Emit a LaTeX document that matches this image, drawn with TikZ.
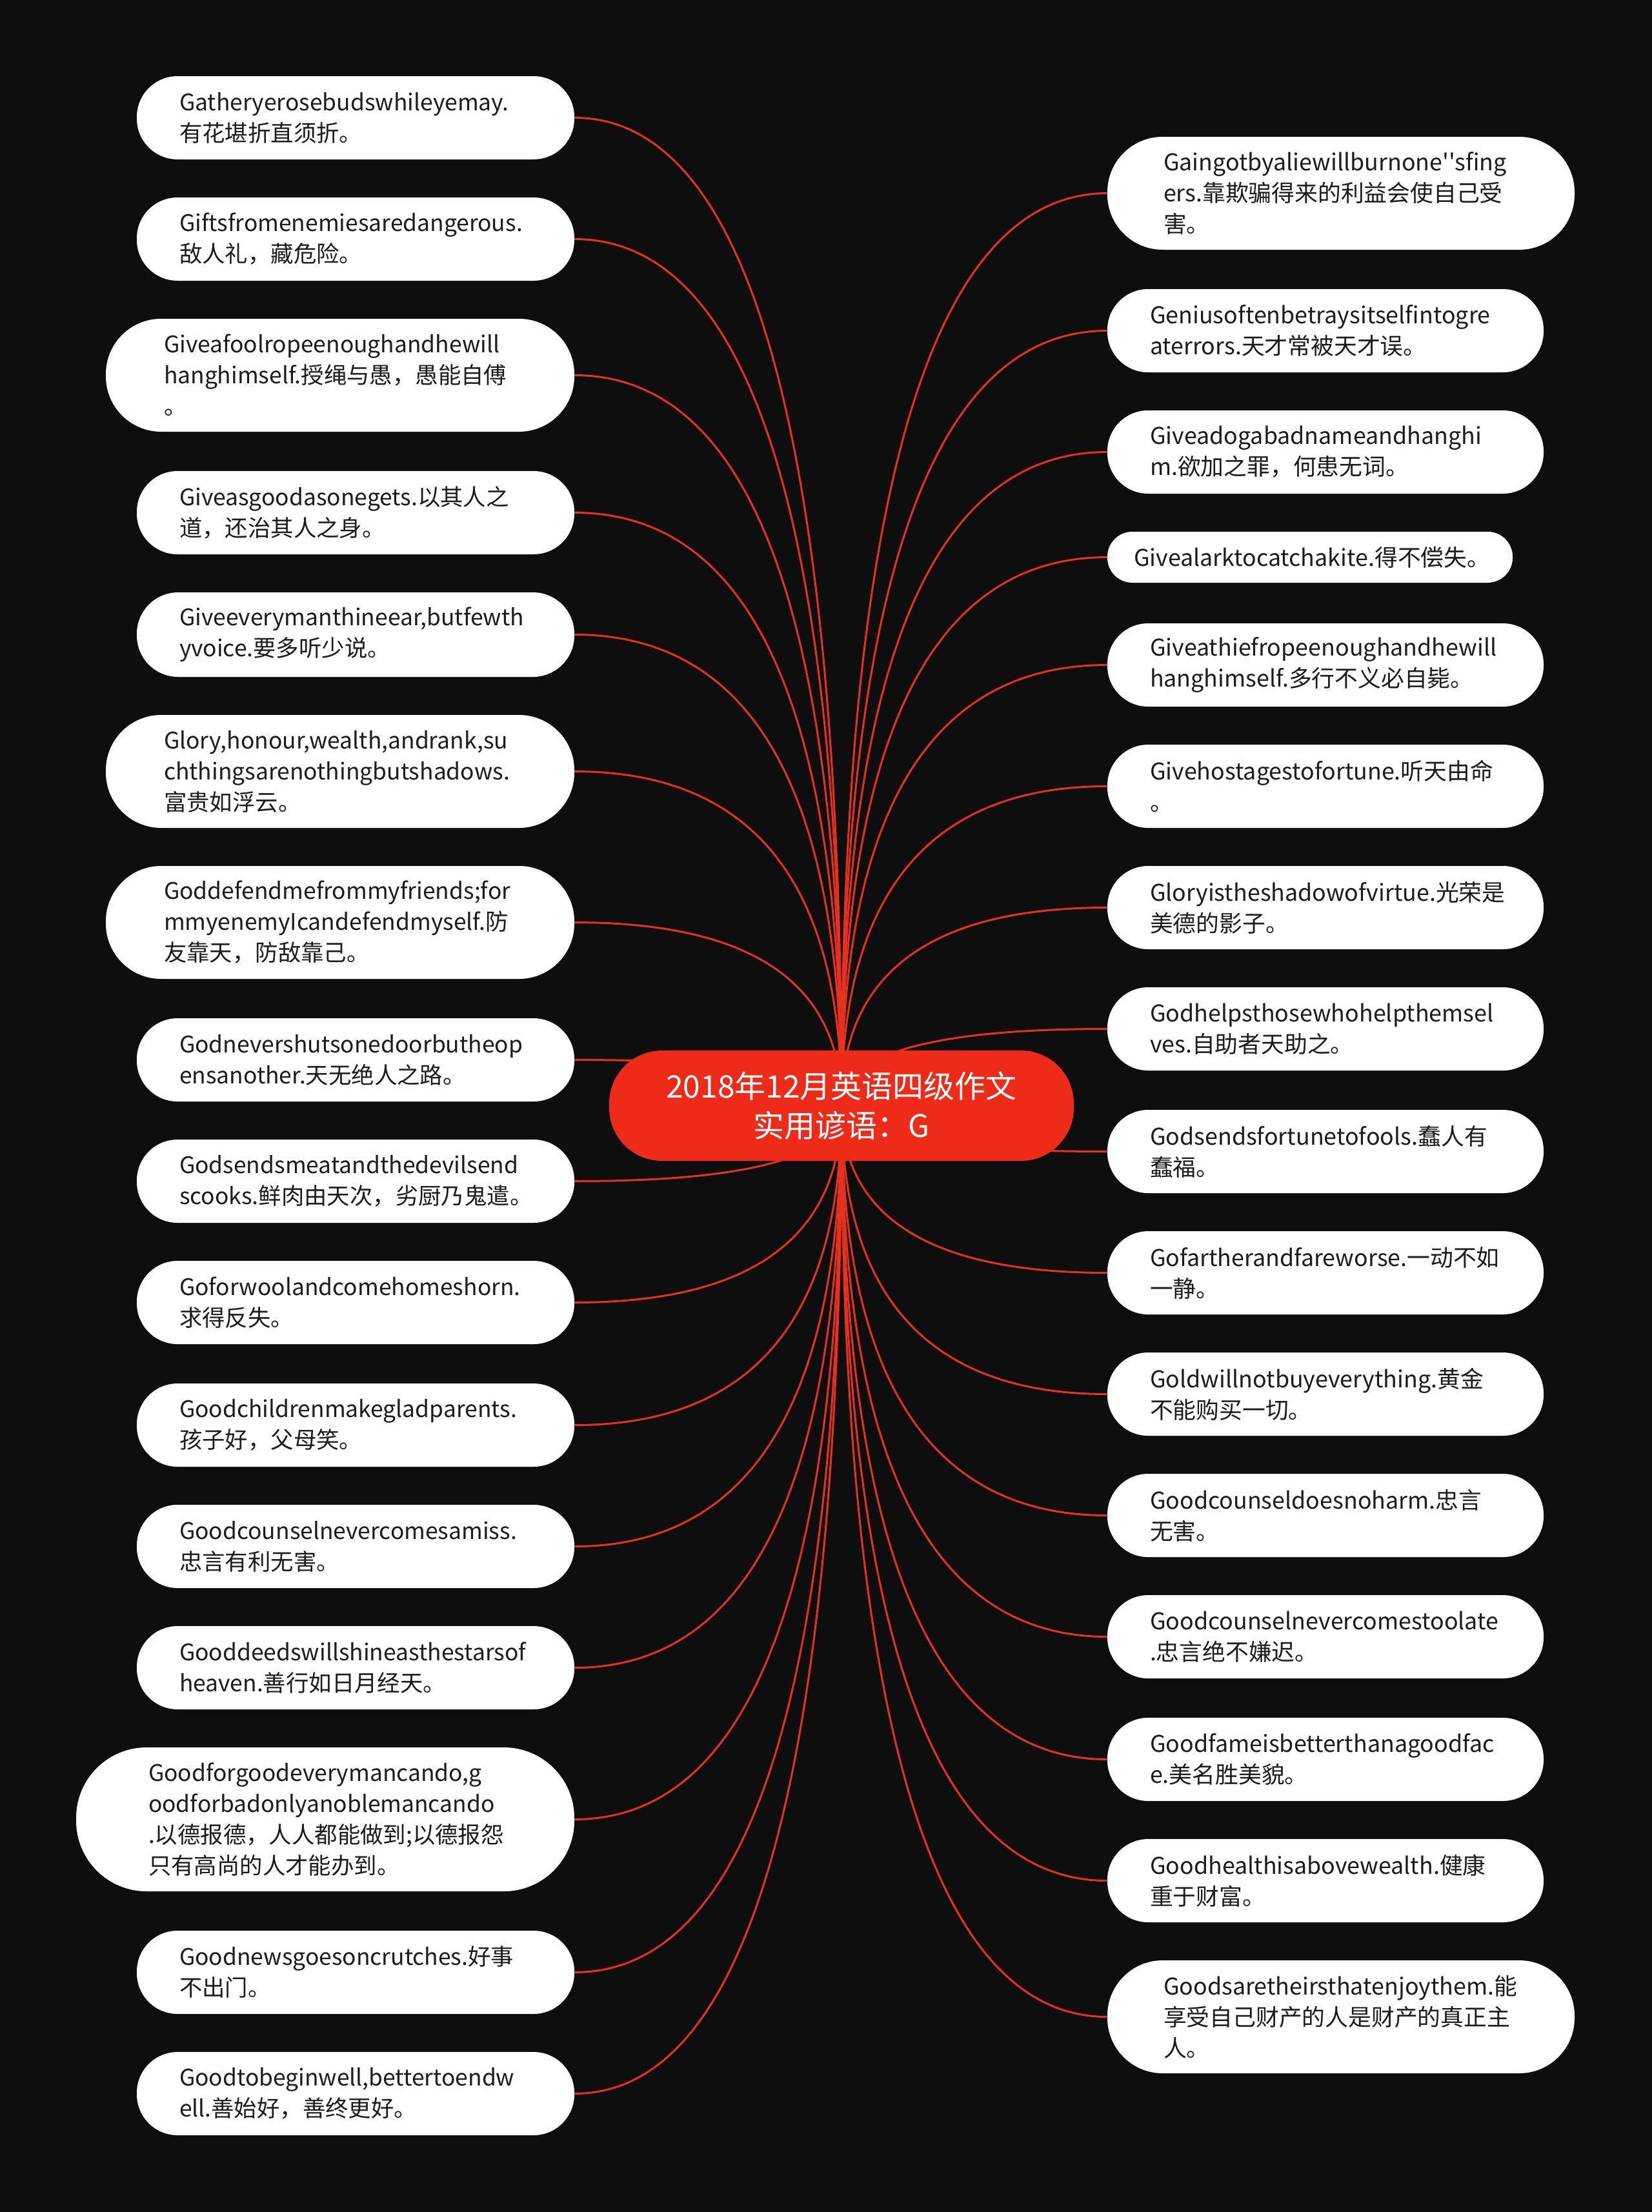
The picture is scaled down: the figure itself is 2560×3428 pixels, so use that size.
\documentclass[tikz,border=0pt]{standalone}
\usepackage{fontspec}
\newfontfamily\cjk{Noto Sans CJK SC}
\usetikzlibrary{calc}
\definecolor{bgc}{HTML}{0E0E0E}
\definecolor{redc}{HTML}{EE2A18}
\definecolor{linec}{HTML}{E8301E}
\definecolor{txt}{HTML}{1C1C1C}
\pgfdeclarelayer{back}\pgfdeclarelayer{links}\pgfsetlayers{back,links,main}
\tikzset{
 leafbox/.style={fill=white, draw=none, inner sep=0pt, align=left, text=txt, font=\cjk\fontsize{17.7}{24}\selectfont},
 rightfont/.style={font=\cjk\fontsize{17.9}{24}\selectfont},
 rootbox/.style={fill=redc, draw=none, inner sep=0pt, align=center, text=white, font=\cjk\fontsize{24}{30.5}\selectfont, minimum width=360pt, minimum height=85.5pt, rounded corners=41pt},
 conn/.style={draw=linec, line width=1.5pt}
}
\newcommand\leaf[8][]{%
 \pgfmathsetmacro\lw{(#3-#2)*0.5}%
 \pgfmathsetmacro\lh{(#5-#4)*0.5}%
 \pgfmathsetmacro\ltw{(#3-#2-2*#6)*0.5}%
 \pgfmathsetmacro\lr{\lh*0.49}%
 \pgfmathsetmacro\lx{(#2+#3)/2}%
 \pgfmathsetmacro\ly{(#4+#5)/2}%
 \node[leafbox, #1, minimum width=\lw pt, minimum height=\lh pt, text width=\ltw pt, rounded corners=\lr pt] (#7) at (\lx,\ly) {#8};}
\newcommand\link[2]{\draw[conn] (c.center) .. controls ($(c.center)!0.6667!(c.center |- #1.#2)$) and ($(#1.#2)!0.6667!(c.center |- #1.#2)$) .. (#1.#2);}
\begin{document}
\begin{tikzpicture}[x=0.5pt,y=-0.5pt]
\begin{pgfonlayer}{back}
\fill[bgc] (0,0) rectangle (2560,3428);
\end{pgfonlayer}
\useasboundingbox (0,0) rectangle (2560,3428);

\node[rootbox] (c) at (1304,1713.5) {2018年12月英语四级作文\\实用谚语：G};

% left column
\leaf{212}{890}{118}{247}{66}{l1}{Gatheryerosebudswhileyemay.\\有花堪折直须折。}
\leaf{212}{890}{306}{435}{66}{l2}{Giftsfromenemiesaredangerous.\\敌人礼，藏危险。}
\leaf{164}{890}{494}{669}{90}{l3}{Giveafoolropeenoughandhewill\\hanghimself.授绳与愚，愚能自傅\\。}
\leaf{212}{890}{730}{859}{66}{l4}{Giveasgoodasonegets.以其人之\\道，还治其人之身。}
\leaf{212}{890}{918}{1049}{66}{l5}{Giveeverymanthineear,butfewth\\yvoice.要多听少说。}
\leaf{164}{890}{1108}{1283}{90}{l6}{Glory,honour,wealth,andrank,su\\chthingsarenothingbutshadows.\\富贵如浮云。}
\leaf{164}{890}{1342}{1517}{90}{l7}{Goddefendmefrommyfriends;for\\mmyenemyIcandefendmyself.防\\友靠天，防敌靠己。}
\leaf{212}{890}{1578}{1707}{66}{l8}{Godnevershutsonedoorbutheop\\ensanother.天无绝人之路。}
\leaf{212}{890}{1766}{1895}{66}{l9}{Godsendsmeatandthedevilsend\\scooks.鲜肉由天次，劣厨乃鬼遣。}
\leaf{212}{890}{1954}{2083}{66}{l10}{Goforwoolandcomehomeshorn.\\求得反失。}
\leaf{212}{890}{2144}{2273}{66}{l11}{Goodchildrenmakegladparents.\\孩子好，父母笑。}
\leaf{212}{890}{2332}{2461}{66}{l12}{Goodcounselnevercomesamiss.\\忠言有利无害。}
\leaf{212}{890}{2520}{2649}{66}{l13}{Gooddeedswillshineasthestarsof\\heaven.善行如日月经天。}
\leaf{118}{890}{2708}{2931}{112}{l14}{Goodforgoodeverymancando,g\\oodforbadonlyanoblemancando\\.以德报德，人人都能做到;以德报怨\\只有高尚的人才能办到。}
\leaf{212}{890}{2992}{3121}{66}{l15}{Goodnewsgoesoncrutches.好事\\不出门。}
\leaf{212}{890}{3180}{3309}{66}{l16}{Goodtobeginwell,bettertoendw\\ell.善始好，善终更好。}

% right column
\leaf[rightfont]{1716}{2440}{212}{387}{87}{r1}{Gaingotbyaliewillburnone''sfing\\ers.靠欺骗得来的利益会使自己受\\害。}
\leaf[rightfont]{1716}{2392}{448}{577}{66}{r2}{Geniusoftenbetraysitselfintogre\\aterrors.天才常被天才误。}
\leaf[rightfont]{1716}{2392}{636}{765}{66}{r3}{Giveadogabadnameandhanghi\\m.欲加之罪，何患无词。}
\leaf[rightfont]{1716}{2344}{824}{903}{41}{r4}{Givealarktocatchakite.得不偿失。}
\leaf[rightfont]{1716}{2392}{966}{1095}{66}{r5}{Giveathiefropeenoughandhewill\\hanghimself.多行不义必自毙。}
\leaf[rightfont]{1716}{2392}{1154}{1283}{66}{r6}{Givehostagestofortune.听天由命\\。}
\leaf[rightfont]{1716}{2392}{1342}{1471}{66}{r7}{Gloryistheshadowofvirtue.光荣是\\美德的影子。}
\leaf[rightfont]{1716}{2392}{1530}{1659}{66}{r8}{Godhelpsthosewhohelpthemsel\\ves.自助者天助之。}
\leaf[rightfont]{1716}{2392}{1720}{1849}{66}{r9}{Godsendsfortunetofools.蠢人有\\蠢福。}
\leaf[rightfont]{1716}{2392}{1908}{2037}{66}{r10}{Gofartherandfareworse.一动不如\\一静。}
\leaf[rightfont]{1716}{2392}{2096}{2225}{66}{r11}{Goldwillnotbuyeverything.黄金\\不能购买一切。}
\leaf[rightfont]{1716}{2392}{2284}{2413}{66}{r12}{Goodcounseldoesnoharm.忠言\\无害。}
\leaf[rightfont]{1716}{2392}{2472}{2601}{66}{r13}{Goodcounselnevercomestoolate\\.忠言绝不嫌迟。}
\leaf[rightfont]{1716}{2392}{2662}{2791}{66}{r14}{Goodfameisbetterthanagoodfac\\e.美名胜美貌。}
\leaf[rightfont]{1716}{2392}{2850}{2979}{66}{r15}{Goodhealthisabovewealth.健康\\重于财富。}
\leaf[rightfont]{1716}{2440}{3038}{3213}{87}{r16}{Goodsaretheirsthatenjoythem.能\\享受自己财产的人是财产的真正主\\人。}

\begin{pgfonlayer}{links}
\foreach \n in {l1,l2,l3,l4,l5,l6,l7,l8,l9,l10,l11,l12,l13,l14,l15,l16}{\link{\n}{east}}
\foreach \n in {r1,r2,r3,r4,r5,r6,r7,r8,r9,r10,r11,r12,r13,r14,r15,r16}{\link{\n}{west}}
\end{pgfonlayer}
\end{tikzpicture}
\end{document}
